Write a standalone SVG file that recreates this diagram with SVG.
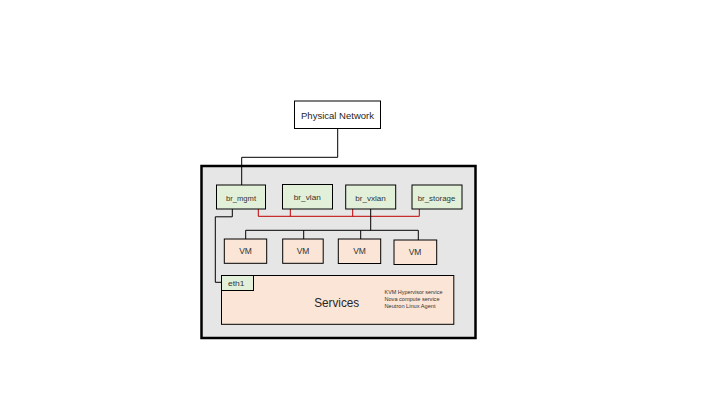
<svg xmlns="http://www.w3.org/2000/svg" width="720" height="405" viewBox="0 0 720 405">
<style>
  text { font-family: "Liberation Sans", "DejaVu Sans", sans-serif; fill: #333333; }
  .box { stroke: #000000; stroke-width: 1; }
  .br { fill: #e2f0d9; }
  .vm { fill: #fbe5d6; }
  .lbl { font-size: 7.5px; text-anchor: middle; }
  .vmt { font-size: 8.5px; text-anchor: middle; }
  .small { font-size: 5.2px; }
  .blk { fill: none; stroke: #000000; stroke-width: 1; }
  .red { fill: none; stroke: #c00000; stroke-width: 1; }
</style>
<rect width="720" height="405" fill="#ffffff"/>

<g id="host">
  <rect x="201.5" y="166" width="274" height="172" fill="#e7e6e6" stroke="#000000" stroke-width="2.5"/>
</g>

<g id="physical-network">
  <rect class="box" x="294.5" y="101" width="86" height="27.5" fill="#ffffff"/>
  <text x="337.5" y="119" font-size="9.5" text-anchor="middle" textLength="73" lengthAdjust="spacingAndGlyphs" style="fill:#262626">Physical Network</text>
</g>

<g id="connectors">
  <polyline class="blk" points="337.7,128.5 337.7,157.3 241.7,157.3 241.7,185"/>
  <polyline class="blk" points="232.3,209 232.3,216.8 215.3,216.8 215.3,282.3 221.5,282.3"/>
  <polyline class="red" points="258.3,209 258.3,216.3 419.3,216.3 419.3,209"/>
  <line class="red" x1="290.3" y1="209" x2="290.3" y2="216.3"/>
  <line class="red" x1="352.7" y1="209" x2="352.7" y2="216.3"/>
  <line class="blk" x1="370.7" y1="209" x2="370.7" y2="230.3"/>
  <polyline class="blk" points="245.7,239 245.7,230.3 418.3,230.3 418.3,240"/>
  <line class="blk" x1="303.7" y1="230.3" x2="303.7" y2="239"/>
  <line class="blk" x1="360.7" y1="230.3" x2="360.7" y2="239"/>
</g>

<g id="br_mgmt">
  <rect class="box br" x="216.5" y="185" width="49" height="24"/>
  <text class="lbl" x="241" y="200.5" textLength="30" lengthAdjust="spacingAndGlyphs">br_mgmt</text>
</g>
<g id="br_vlan">
  <rect class="box br" x="282.5" y="184.5" width="50" height="24.5"/>
  <text class="lbl" x="307.3" y="199.5" textLength="27" lengthAdjust="spacingAndGlyphs">br_vlan</text>
</g>
<g id="br_vxlan">
  <rect class="box br" x="345.7" y="185" width="50" height="24"/>
  <text class="lbl" x="370.5" y="200.5" textLength="30.5" lengthAdjust="spacingAndGlyphs">br_vxlan</text>
</g>
<g id="br_storage">
  <rect class="box br" x="412" y="185" width="50" height="24"/>
  <text class="lbl" x="436.5" y="200.5" textLength="37.5" lengthAdjust="spacingAndGlyphs">br_storage</text>
</g>

<g id="vm1">
  <rect class="box vm" x="224.3" y="239" width="42.4" height="24.3"/>
  <text class="vmt" x="245.5" y="253.5">VM</text>
</g>
<g id="vm2">
  <rect class="box vm" x="282.7" y="239" width="40.5" height="24.3"/>
  <text class="vmt" x="303" y="253.5">VM</text>
</g>
<g id="vm3">
  <rect class="box vm" x="338.3" y="239" width="42.4" height="24.5"/>
  <text class="vmt" x="359.5" y="253.5">VM</text>
</g>
<g id="vm4">
  <rect class="box vm" x="394" y="240" width="42.7" height="24.5"/>
  <text class="vmt" x="415" y="254.8" font-size="9.3">VM</text>
</g>

<g id="services">
  <rect class="box vm" x="221.5" y="275.5" width="232.3" height="48.8"/>
  <text x="336.7" y="306.5" font-size="13.5" text-anchor="middle" textLength="45" lengthAdjust="spacingAndGlyphs" style="fill:#262626">Services</text>
  <text class="small" x="384.5" y="294" textLength="58" lengthAdjust="spacingAndGlyphs">KVM Hypervisor service</text>
  <text class="small" x="384.5" y="300.7" textLength="55" lengthAdjust="spacingAndGlyphs">Nova compute service</text>
  <text class="small" x="384.5" y="307.5" textLength="51" lengthAdjust="spacingAndGlyphs">Neutron Linux Agent</text>
</g>

<g id="eth1">
  <rect class="box br" x="221.5" y="275.5" width="32" height="15"/>
  <text x="228" y="286" font-size="8" textLength="16.5" lengthAdjust="spacingAndGlyphs">eth1</text>
</g>
</svg>
